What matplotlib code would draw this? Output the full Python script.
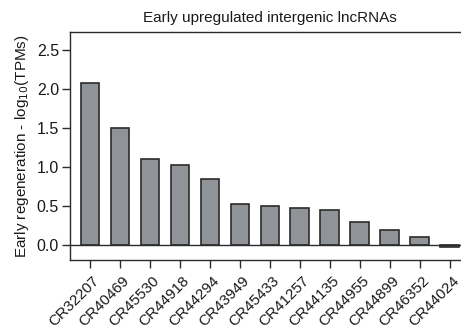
import matplotlib
matplotlib.use("Agg")
import matplotlib.pyplot as plt
from matplotlib.transforms import ScaledTranslation, blended_transform_factory

# Early upregulated intergenic lncRNAs and their log10(TPM) values
genes = ["CR32207", "CR40469", "CR45530", "CR44918", "CR44294", "CR43949",
         "CR45433", "CR41257", "CR44135", "CR44955", "CR44899", "CR46352",
         "CR44024"]
log_tpm = [2.07, 1.50, 1.10, 1.03, 0.84, 0.52, 0.50, 0.47, 0.45, 0.29,
           0.20, 0.11, -0.03]
y_ticks = [0.0, 0.5, 1.0, 1.5, 2.0, 2.5]

plt.rcParams["font.family"] = ["Liberation Sans", "DejaVu Sans"]
ink = "#2b2b2b"

W, H = 461, 330
fig = plt.figure(figsize=(W / 100, H / 100), dpi=100)
ax = fig.add_axes([70 / W, 70 / H, 391 / W, 228.3 / H])

x = list(range(len(genes)))
ax.bar(x, log_tpm, width=0.63, color="#909498", edgecolor=ink,
       linewidth=1.2, zorder=3)
ax.axhline(0, color=ink, linewidth=1.0, zorder=4)

ax.set_xlim(-0.667, 12.37)
ax.set_ylim(-0.19, 2.73)

ax.set_yticks(y_ticks)
ax.set_yticklabels([f"{v:.1f}" for v in y_ticks], fontsize=11.5, color="#1a1a1a")

# Gene names under the bars, slanted at 45 degrees
ax.set_xticks(x)
ax.set_xticklabels([])
label_tf = (blended_transform_factory(ax.transData, ax.transAxes) +
            ScaledTranslation(7 / 100, -19 / 100, fig.dpi_scale_trans))
for xi, name in zip(x, genes):
    ax.text(xi, 0, name, transform=label_tf, rotation=45, ha="right",
            va="center", rotation_mode="anchor", fontsize=11,
            color="#1a1a1a", clip_on=False)

ax.tick_params(axis="y", direction="out", length=6, width=1.0, color=ink, pad=2)
ax.tick_params(axis="x", direction="out", length=5.5, width=1.0, color=ink)

for side in ("left", "top", "bottom"):
    ax.spines[side].set_linewidth(1.0)
    ax.spines[side].set_color(ink)
ax.spines["right"].set_visible(False)

ax.set_ylabel("Early regeneration - log$_{10}$(TPMs)", fontsize=11,
              color="#1a1a1a", labelpad=4)
fig.text(270 / W, 1 - 18 / H, "Early upregulated intergenic lncRNAs",
         ha="center", va="center", fontsize=11, color="#1a1a1a")

fig.savefig("out.png", dpi=100)
